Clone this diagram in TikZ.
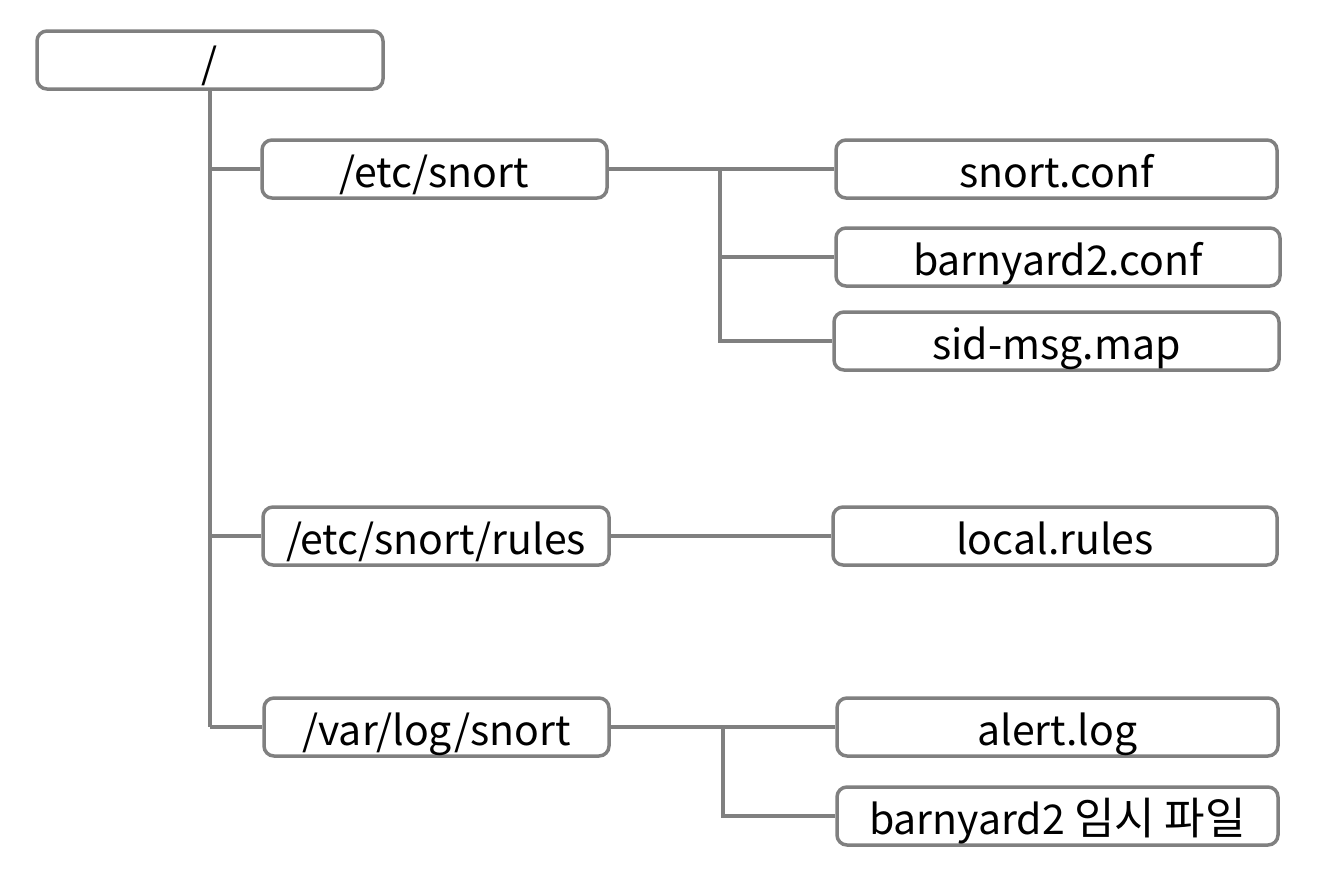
\documentclass[tikz,border=0pt]{standalone}
\usepackage{fontspec}
\setmainfont{Noto Sans CJK KR}
\begin{document}
\begin{tikzpicture}[x=1pt,y=-1pt,
  box/.style={draw=linegray, line width=3.5pt, rounded corners=10pt, inner sep=0pt,
    minimum height=58pt, text height=36pt, text depth=0pt,
    font=\fontsize{41}{44}\selectfont, text=black},
  conn/.style={draw=linegray, line width=3.5pt}]
\definecolor{linegray}{HTML}{808080}
\useasboundingbox (0,0) rectangle (1342,892);
\node[box, minimum width=346pt] (root) at (210,60) {/};
\node[box, minimum width=345pt] (etc) at (434.5,169) {/etc/snort};
\node[box, minimum width=346pt] (rules) at (436,536) {/etc/snort/rules};
\node[box, minimum width=345pt] (var) at (436.5,727) {/var/log/snort};
\node[box, minimum width=441pt] (conf) at (1056.5,169) {snort.conf};
\node[box, minimum width=444pt] (bconf) at (1058,257) {barnyard2.conf};
\node[box, minimum width=445pt] (sid) at (1056.5,341) {sid-msg.map};
\node[box, minimum width=444pt] (local) at (1055,536) {local.rules};
\node[box, minimum width=441pt] (alert) at (1057.5,727) {alert.log};
\node[box, minimum width=441pt] (tmp) at (1057.5,816) {barnyard2 {\fontsize{44}{44}\selectfont 임시 파일}};
\coordinate (t1) at (210,727);
\draw[conn] (root.south) -- (t1);
\draw[conn] (210,169) -- (etc.west);
\draw[conn] (210,536) -- (rules.west);
\draw[conn] (t1) -- (var.west);
\draw[conn] (etc.east) -- (conf.west);
\coordinate (t2) at (720,169);
\coordinate (t2b) at (720,341);
\draw[conn] (t2) -- (t2b) -- (sid.west);
\draw[conn] (720,257) -- (bconf.west);
\draw[conn] (rules.east) -- (local.west);
\draw[conn] (var.east) -- (alert.west);
\coordinate (t3) at (723,727);
\coordinate (t3b) at (723,816);
\draw[conn] (t3) -- (t3b) -- (tmp.west);
\end{tikzpicture}
\end{document}
